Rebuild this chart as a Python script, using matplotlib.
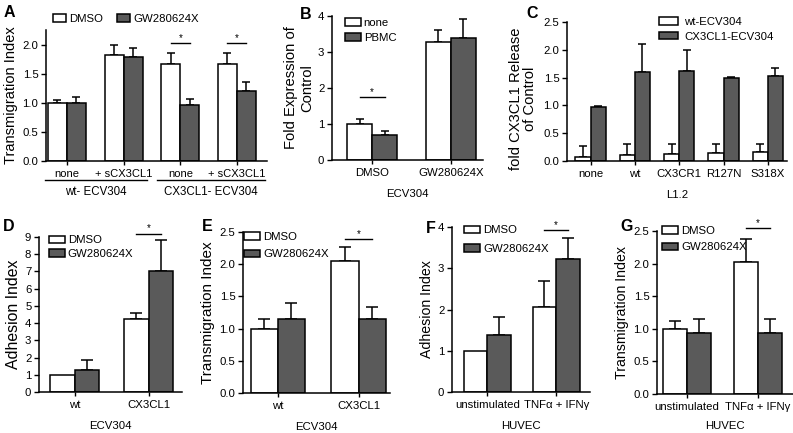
import numpy as np
import matplotlib
matplotlib.use("Agg")
import matplotlib.pyplot as plt
import matplotlib.transforms as mtransforms
from matplotlib.patches import Patch

plt.rcParams['font.family'] = ['Liberation Sans', 'DejaVu Sans']
plt.rcParams['axes.linewidth'] = 1.1

# ---- data ----
A_ticks = ['none', '+ sCX3CL1', 'none', '+ sCX3CL1']
A_groups = ['wt- ECV304', 'CX3CL1- ECV304']
A_dmso = [1.0, 1.82, 1.67, 1.66]
A_dmso_err = [0.04, 0.18, 0.19, 0.20]
A_gw = [1.0, 1.78, 0.97, 1.21]
A_gw_err = [0.10, 0.16, 0.09, 0.14]

B_cats = ['DMSO', 'GW280624X']
B_none = [1.0, 3.27]
B_none_err = [0.13, 0.35]
B_pbmc = [0.70, 3.40]
B_pbmc_err = [0.10, 0.52]

C_cats = ['none', 'wt', 'CX3CR1', 'R127N', 'S318X']
C_wt = [0.08, 0.10, 0.12, 0.14, 0.16]
C_wt_err = [0.19, 0.21, 0.18, 0.16, 0.14]
C_cx = [0.98, 1.60, 1.61, 1.50, 1.52]
C_cx_err = [0.01, 0.50, 0.39, 0.01, 0.16]

D_cats = ['wt', 'CX3CL1']
D_dmso = [1.0, 4.25]
D_dmso_err = [0.0, 0.35]
D_gw = [1.25, 7.0]
D_gw_err = [0.60, 1.80]

E_cats = ['wt', 'CX3CL1']
E_dmso = [1.0, 2.05]
E_dmso_err = [0.15, 0.21]
E_gw = [1.15, 1.15]
E_gw_err = [0.25, 0.19]

F_cats = ['unstimulated', 'TNFα + IFNγ']
F_dmso = [1.0, 2.07]
F_dmso_err = [0.0, 0.61]
F_gw = [1.38, 3.22]
F_gw_err = [0.45, 0.51]

G_cats = ['unstimulated', 'TNFα + IFNγ']
G_dmso = [1.0, 2.02]
G_dmso_err = [0.12, 0.36]
G_gw = [0.94, 0.94]
G_gw_err = [0.21, 0.21]

DARK = '#5a5a5a'
W = 0.335
FS = 8.2

W_PX, H_PX = 793, 433
fig = plt.figure(figsize=(W_PX / 100, H_PX / 100), dpi=100)


def make_ax(l, r, t, b):
    return fig.add_axes([l / W_PX, 1 - b / H_PX, (r - l) / W_PX, (b - t) / H_PX])


def bars(ax, v1, e1, v2, e2, w=W, cap=3):
    x = np.arange(len(v1))
    for xs, v, e, c in [(x - w / 2, v1, e1, 'white'), (x + w / 2, v2, e2, DARK)]:
        ax.bar(xs, v, w, color=c, edgecolor='black', linewidth=1.1, zorder=2)
        e = np.array(e, dtype=float)
        m = e > 0
        ax.errorbar(xs[m], np.array(v)[m], yerr=[np.zeros(m.sum()), e[m]], fmt='none',
                    ecolor='black', elinewidth=1.1, capsize=cap, capthick=1.1, zorder=1)
    return x


def style(ax, xlim, ylim, yticks, ylabel, ysize, cats=None, xlabel=None, fmt=None, lsp=1.2):
    ax.set_xlim(*xlim)
    ax.set_ylim(*ylim)
    for s in ['top', 'right']:
        ax.spines[s].set_visible(False)
    ax.set_yticks(yticks)
    if fmt:
        ax.set_yticklabels([fmt.format(t) for t in yticks])
    ax.tick_params(axis='y', direction='out', length=3.5, width=1, labelsize=FS, pad=2)
    ax.tick_params(axis='x', direction='out', length=3, width=1, labelsize=FS, pad=3)
    if cats is not None:
        ax.set_xticks(np.arange(len(cats)))
        ax.set_xticklabels(cats)
    ax.set_ylabel(ylabel, fontsize=ysize, labelpad=3, linespacing=lsp)
    if xlabel:
        ax.set_xlabel(xlabel, fontsize=FS, labelpad=8)


def sig(ax, x0, x1, y, clip=False):
    ax.plot([x0, x1], [y, y], color='black', lw=1, clip_on=clip)
    ax.annotate('*', xy=((x0 + x1) / 2, y), xytext=(0, 0), textcoords='offset points',
                ha='center', va='bottom', fontsize=7, annotation_clip=False)


def legend(ax, labels, x, y, spacing, ncol=1, colsp=1.0, hlen=1.4, tpad=0.25):
    hs = [Patch(facecolor='white', edgecolor='black', lw=1.1),
          Patch(facecolor=DARK, edgecolor='black', lw=1.1)]
    ax.legend(hs, labels, loc='upper left', bbox_to_anchor=(x, y), frameon=False,
              fontsize=FS, handlelength=hlen, handleheight=0.65, handletextpad=tpad,
              labelspacing=spacing, borderpad=0, borderaxespad=0, ncol=ncol,
              columnspacing=colsp)


# ---- A ----
axA = make_ax(46, 267, 30, 161)
bars(axA, A_dmso, A_dmso_err, A_gw, A_gw_err)
style(axA, (-0.37, 3.53), (0, 2.25), [0, 0.5, 1.0, 1.5, 2.0], 'Transmigration Index', 10.5,
      cats=A_ticks, fmt='{:.1f}')
axA.tick_params(axis='x', labelsize=8)
legend(axA, ['DMSO', 'GW280624X'], 0.03, 1.12, 0.3, ncol=2, colsp=1.2, hlen=1.2)
sig(axA, 2 - W / 2, 2 + W / 2, 2.02)
sig(axA, 3 - W / 2, 3 + W / 2, 2.02)
trA = mtransforms.blended_transform_factory(axA.transData, axA.transAxes)
for x0, x1, lab in [(-0.39, 1.41, A_groups[0]), (1.59, 3.49, A_groups[1])]:
    axA.plot([x0, x1], [-0.145, -0.145], color='black', lw=1, transform=trA, clip_on=False)
    axA.text((x0 + x1) / 2, -0.19, lab, transform=trA, ha='center', va='top', fontsize=8.3)

# ---- B ----
axB = make_ax(332, 483, 16, 160)
bars(axB, B_none, B_none_err, B_pbmc, B_pbmc_err, w=0.32)
style(axB, (-0.51, 1.41), (0, 4), [0, 1, 2, 3, 4], 'Fold Expression of\nControl', 10.6,
      cats=B_cats, xlabel='ECV304', lsp=1.2)
legend(axB, ['none', 'PBMC'], 0.086, 0.985, 0.45)
sig(axB, -0.16, 0.16, 1.74)

# ---- C ----
axC = make_ax(567, 787, 22, 161)
bars(axC, C_wt, C_wt_err, C_cx, C_cx_err, w=0.34)
style(axC, (-0.53, 4.43), (0, 2.5), [0, 0.5, 1.0, 1.5, 2.0, 2.5], 'fold CX3CL1 Release\nof Control',
      10.6, cats=C_cats, xlabel='L1.2', fmt='{:.1f}', lsp=1.0)
axC.yaxis.set_label_coords(-0.135, 0.45)
legend(axC, ['wt-ECV304', 'CX3CL1-ECV304'], 0.42, 1.035, 0.4, hlen=1.6, tpad=0.6)

# ---- D ----
axD = make_ax(39, 182, 237, 392)
bars(axD, D_dmso, D_dmso_err, D_gw, D_gw_err, cap=4)
style(axD, (-0.48, 1.45), (0, 9), list(range(10)), 'Adhesion Index', 11.4,
      cats=D_cats, xlabel='ECV304')
legend(axD, ['DMSO', 'GW280624X'], 0.07, 1.01, 0.3)
sig(axD, 1 - W / 2, 1 + W / 2, 9.2)

# ---- E ----
axE = make_ax(243, 390, 232, 393)
bars(axE, E_dmso, E_dmso_err, E_gw, E_gw_err, cap=4)
style(axE, (-0.43, 1.39), (0, 2.5), [0, 0.5, 1.0, 1.5, 2.0, 2.5], 'Transmigration Index', 11.0,
      cats=E_cats, xlabel='ECV304', fmt='{:.1f}')
legend(axE, ['DMSO', 'GW280624X'], 0.01, 1.0, 0.65)
sig(axE, 1 - W / 2, 1 + W / 2, 2.39)

# ---- F ----
axF = make_ax(452, 590, 227, 392)
bars(axF, F_dmso, F_dmso_err, F_gw, F_gw_err, w=0.34, cap=4)
style(axF, (-0.51, 1.49), (0, 4), [0, 1, 2, 3, 4], 'Adhesion Index', 10.2,
      cats=F_cats, xlabel='HUVEC')
legend(axF, ['DMSO', 'GW280624X'], 0.09, 1.01, 0.75)
sig(axF, 1 - 0.17, 1 + 0.17, 3.93)

# ---- G ----
axG = make_ax(657, 793, 231, 394)
bars(axG, G_dmso, G_dmso_err, G_gw, G_gw_err, w=0.34, cap=4)
style(axG, (-0.42, 1.49), (0, 2.5), [0, 0.5, 1.0, 1.5, 2.0, 2.5], 'Transmigration Index', 10.2,
      cats=G_cats, xlabel='HUVEC', fmt='{:.1f}')
axG.xaxis.labelpad = 6
legend(axG, ['DMSO', 'GW280624X'], 0.04, 1.03, 0.55)
sig(axG, 1 - 0.17, 1 + 0.17, 2.55)

# panel letters
for lab, x, y in [('A', 4, 5), ('B', 300, 7), ('C', 526, 6), ('D', 3, 219),
                  ('E', 202, 219), ('F', 426, 221), ('G', 620, 219)]:
    fig.text(x / W_PX, 1 - y / H_PX, lab, fontsize=11.5, fontweight='bold', va='top', ha='left')

fig.savefig('out.png', dpi=100)
